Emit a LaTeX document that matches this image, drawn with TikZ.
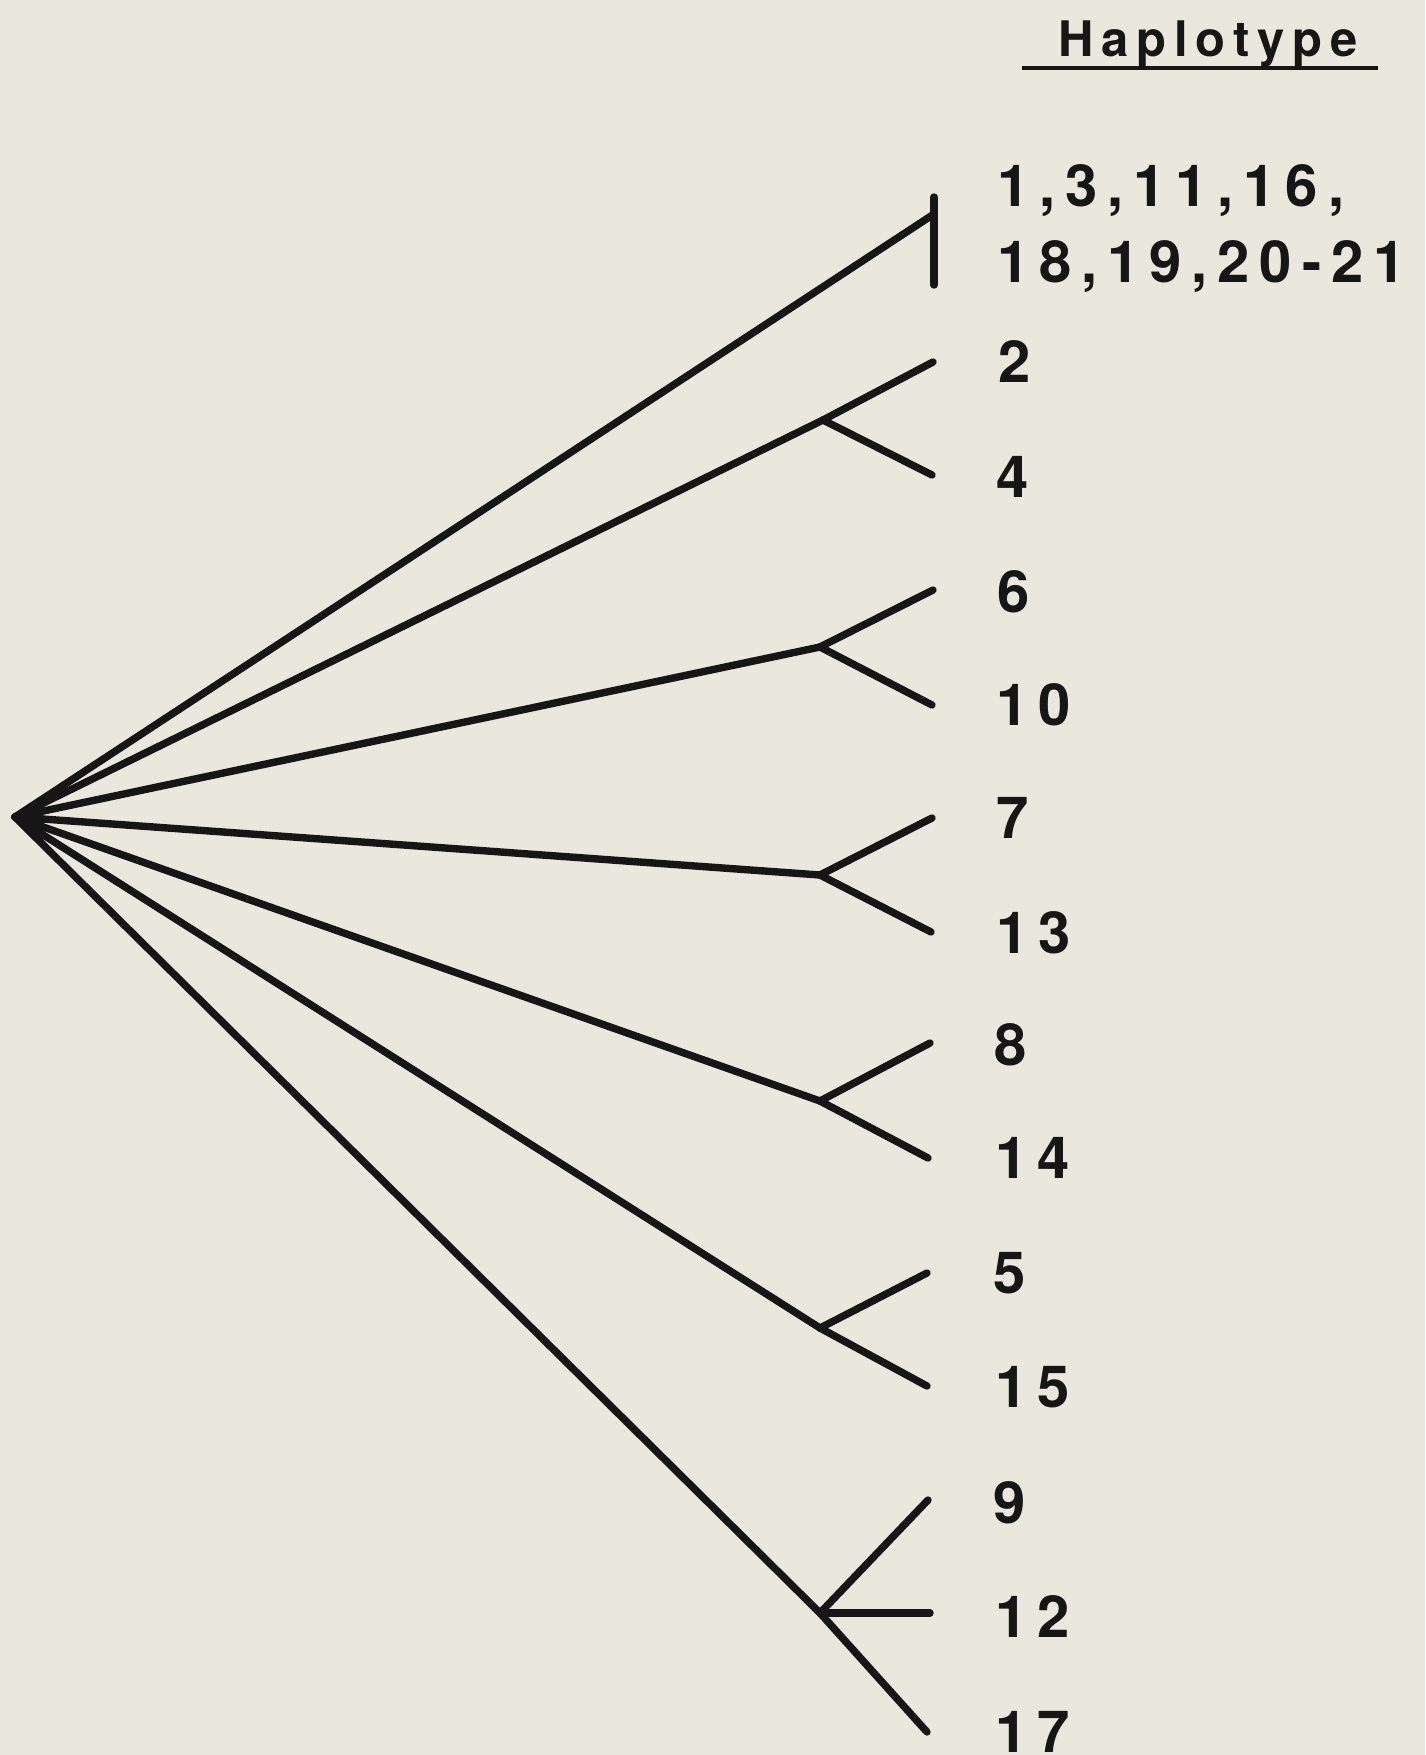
\documentclass[tikz,border=0pt]{standalone}
\usepackage{fontspec}
\usetikzlibrary{calc}
\setmainfont{TeX Gyre Heros}
\newfontfamily\numfont{TeX Gyre Heros}[LetterSpace=17]
\newfontfamily\hapfont{TeX Gyre Heros}[LetterSpace=16]
\definecolor{paper}{RGB}{234,231,220}
\definecolor{ink}{RGB}{22,22,22}
\begin{document}
\begin{tikzpicture}[x=0.5pt,y=-0.5pt,
  branch/.style={line width=3.7pt, line cap=round, line join=round, draw=ink},
  lab/.style={anchor=base west, inner sep=0pt, text=ink,
    font=\numfont\bfseries\fontsize{29}{37.5}\selectfont},
  hap/.style={anchor=base west, inner sep=0pt, text=ink,
    font=\hapfont\bfseries\fontsize{24.5}{28}\selectfont}]
\fill[paper] (0,0) rectangle (1425,1755);
\useasboundingbox (0,0) rectangle (1425,1755);

% root and forks
\coordinate (root) at (15,817);
\coordinate (f1) at (934,214);
\coordinate (f2) at (823,420);
\coordinate (f3) at (820,647);
\coordinate (f4) at (820,875);
\coordinate (f5) at (820,1101);
\coordinate (f6) at (820,1328);
\coordinate (f7) at (820,1613);

% tips
\coordinate (bt) at (934,197);
\coordinate (bb) at (934,285);
\coordinate (t2) at (933,362);
\coordinate (t4) at (932,475);
\coordinate (t6) at (933,590);
\coordinate (t10) at (932,705);
\coordinate (t7) at (932,818);
\coordinate (t13) at (931,932);
\coordinate (t8) at (930,1043);
\coordinate (t14) at (928,1158);
\coordinate (t5) at (927,1273);
\coordinate (t15) at (927,1386);
\coordinate (t9) at (928,1500);
\coordinate (t12) at (930,1613);
\coordinate (t17) at (927,1732);

% thickened root where the branches converge
\fill[ink] (root) -- ($(root)!0.03!(f1)$) -- ($(root)!0.035!(f4)$) -- ($(root)!0.035!(f7)$) -- cycle;

% branches
\draw[branch] (root) -- (f1);
\draw[branch] (bt) -- (bb);
\draw[branch] (root) -- (f2);
\draw[branch] (f2) -- (t2);
\draw[branch] (f2) -- (t4);
\draw[branch] (root) -- (f3);
\draw[branch] (f3) -- (t6);
\draw[branch] (f3) -- (t10);
\draw[branch] (root) -- (f4);
\draw[branch] (f4) -- (t7);
\draw[branch] (f4) -- (t13);
\draw[branch] (root) -- (f5);
\draw[branch] (f5) -- (t8);
\draw[branch] (f5) -- (t14);
\draw[branch] (root) -- (f6);
\draw[branch] (f6) -- (t5);
\draw[branch] (f6) -- (t15);
\draw[branch] (root) -- (f7);
\draw[branch] (f7) -- (t9);
\draw[branch] (f7) -- (t12);
\draw[branch] (f7) -- (t17);

% labels
\node[hap] (title) at (1058,57) {Haplotype};
\draw[line width=1.8pt, draw=ink] (1022,68) -- (1378,68);
\node[lab, align=left] (l1) at (997,282) {1,3,11,16,\\18,19,20-21};
\node[lab] (l2) at (998,382) {2};
\node[lab] (l4) at (996,497) {4};
\node[lab] (l6) at (997,612) {6};
\node[lab] (l10) at (996,725) {10};
\node[lab] (l7) at (996,838) {7};
\node[lab] (l13) at (996,953) {13};
\node[lab] (l8) at (994,1065) {8};
\node[lab] (l14) at (995,1178) {14};
\node[lab] (l5) at (993,1293) {5};
\node[lab] (l15) at (995,1407) {15};
\node[lab] (l9) at (993,1523) {9};
\node[lab] (l12) at (995,1637) {12};
\node[lab] (l17) at (995,1752) {17};
\end{tikzpicture}
\end{document}
